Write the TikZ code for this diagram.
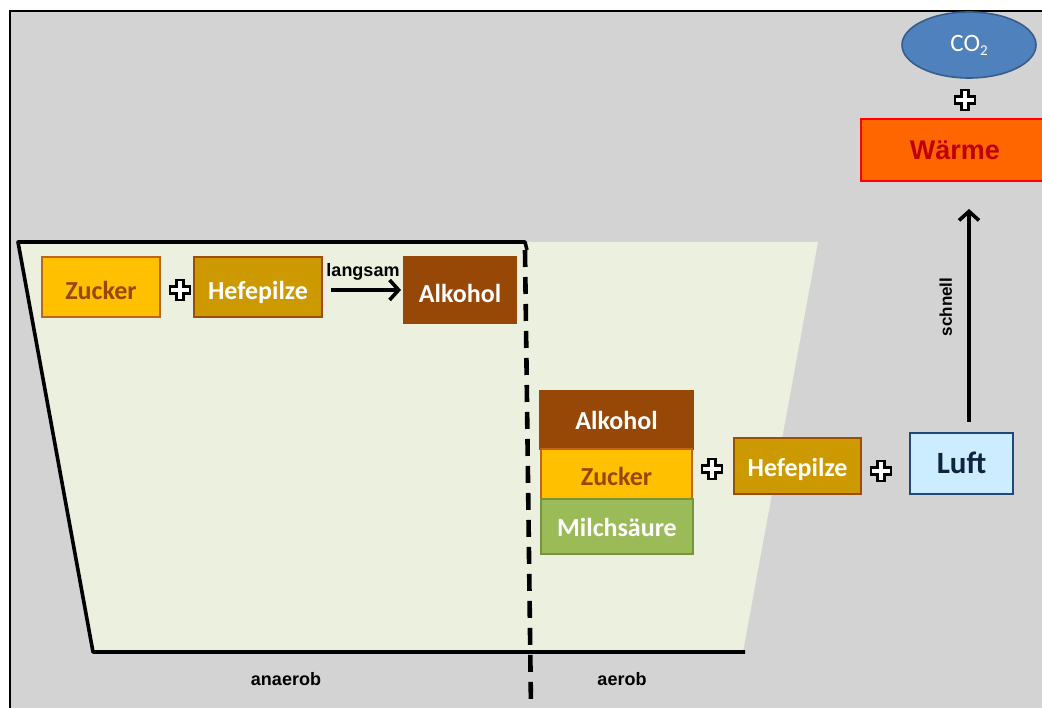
\documentclass[tikz,border=0pt]{standalone}
\usepackage{fontspec}
\setmainfont{Carlito}
\newfontfamily\arialf{Liberation Sans}
\usetikzlibrary{arrows.meta,shapes.geometric}
\definecolor{bggray}{HTML}{D3D3D3}
\definecolor{cream}{HTML}{EBF0DF}
\definecolor{zuckfill}{HTML}{FFC000}
\definecolor{zuckline}{HTML}{C0641A}
\definecolor{zucktext}{HTML}{984806}
\definecolor{hefefill}{HTML}{CC9900}
\definecolor{hefeline}{HTML}{9C4E08}
\definecolor{alkfill}{HTML}{974706}
\definecolor{milchfill}{HTML}{9BBB59}
\definecolor{milchline}{HTML}{77933C}
\definecolor{luftfill}{HTML}{CCECFF}
\definecolor{luftline}{HTML}{1F497D}
\definecolor{lufttext}{HTML}{0F243E}
\definecolor{waermefill}{HTML}{FF6600}
\definecolor{waermetext}{HTML}{C00000}
\definecolor{cofill}{HTML}{4F81BD}
\definecolor{coline}{HTML}{385D8A}
\tikzset{
  box/.style={rectangle, inner sep=0pt, line width=2pt, text height=20pt, text depth=0pt, font=\fontsize{26}{30}\selectfont\bfseries},
  toprow/.style={text height=26pt},
  zuck/.style={box, fill=zuckfill, draw=zuckline, text=zucktext},
  hefe/.style={box, fill=hefefill, draw=hefeline, text=white},
  alk/.style={box, fill=alkfill, draw=alkfill, text=white},
  milch/.style={box, fill=milchfill, draw=milchline, text=white},
  smalllbl/.style={font=\arialf\fontsize{18}{20}\selectfont\bfseries, inner sep=1pt},
  conn/.style={line width=4pt, -{Straight Barb[length=9pt,width=20pt,line width=3.6pt]}},
  plussign/.pic={\draw[fill=white, line width=2.4pt, line join=miter]
    (-3.5,-10)--(3.5,-10)--(3.5,-3.5)--(10,-3.5)--(10,3.5)--(3.5,3.5)--(3.5,10)--(-3.5,10)--(-3.5,3.5)--(-10,3.5)--(-10,-3.5)--(-3.5,-3.5)--cycle;}
}
\begin{document}
\begin{tikzpicture}[x=1pt,y=-1pt]
\useasboundingbox (0,0) rectangle (1042,708);
% frame
\fill[white] (0,0) rectangle (1042,708);
\fill[bggray] (9,10) rectangle (1042,708);
\draw[line width=2.2pt] (10,708) -- (10,11) -- (1042,11);
% vessel
\fill[cream] (18,242) -- (818,242) -- (743,652) -- (93,652) -- cycle;
\draw[line width=3.6pt, line join=round] (527,250) -- (525,242) -- (18,242) -- (93,652) -- (745,652);
\draw[line width=4.6pt, dash pattern=on 17pt off 10pt] (525,250) -- (531,708);
% anaerob side
\node[zuck, toprow, minimum width=118pt, minimum height=60pt] (z1) at (101,287) {Zucker};
\pic at (180,290) {plussign};
\node[hefe, toprow, minimum width=128pt, minimum height=60pt] (h1) at (258,287) {Hefepilze};
\node[alk, toprow, minimum width=112pt, minimum height=66pt] (a1) at (460,290) {Alkohol};
\draw[conn, shorten <=8pt, shorten >=2pt] (h1.east |- a1.west) -- node[smalllbl, above=7pt] {langsam} (a1.west);
% aerob side
\node[alk, minimum width=153pt, minimum height=58pt] (a2) at (616.5,420) {Alkohol};
\node[zuck, text height=23pt, minimum width=151pt, minimum height=50pt] (z2) at (616.5,474) {Zucker};
\node[milch, minimum width=152pt, minimum height=55pt] (m2) at (617,526.5) {Milchsäure};
\pic at (712,469) {plussign};
\node[hefe, minimum width=127pt, minimum height=56pt] (h2) at (797.5,466) {Hefepilze};
\pic at (881,471) {plussign};
\node[box, fill=luftfill, draw=luftline, text=lufttext, font=\fontsize{31}{34}\selectfont\bfseries, minimum width=103pt, minimum height=61pt] (luft) at (961.5,463.5) {Luft};
% top right
\node[box, fill=waermefill, draw=red, text=waermetext, text height=19pt, font=\arialf\fontsize{27}{30}\selectfont\bfseries, minimum width=188pt, minimum height=62pt] (waerme) at (955,150) {Wärme};
\pic at (965,100) {plussign};
\node[ellipse, fill=cofill, draw=coline, line width=1.6pt, text=white, minimum width=134pt, minimum height=66pt, inner sep=0pt, font=\fontsize{25}{28}\selectfont] (co2) at (969,45) {CO\raisebox{-0.35ex}{\fontsize{15}{16}\selectfont 2}};
\draw[conn, shorten <=10pt, shorten >=27pt] (luft.north -| co2.center) -- node[smalllbl, font=\arialf\fontsize{17}{19}\selectfont\bfseries, rotate=90, above=14pt, anchor=south] {schnell} (waerme.south -| co2.center);
% labels
\node[smalllbl] (anaerob) at (286,679) {anaerob};
\node[smalllbl] (aerob) at (622,679) {aerob};
\end{tikzpicture}
\end{document}
